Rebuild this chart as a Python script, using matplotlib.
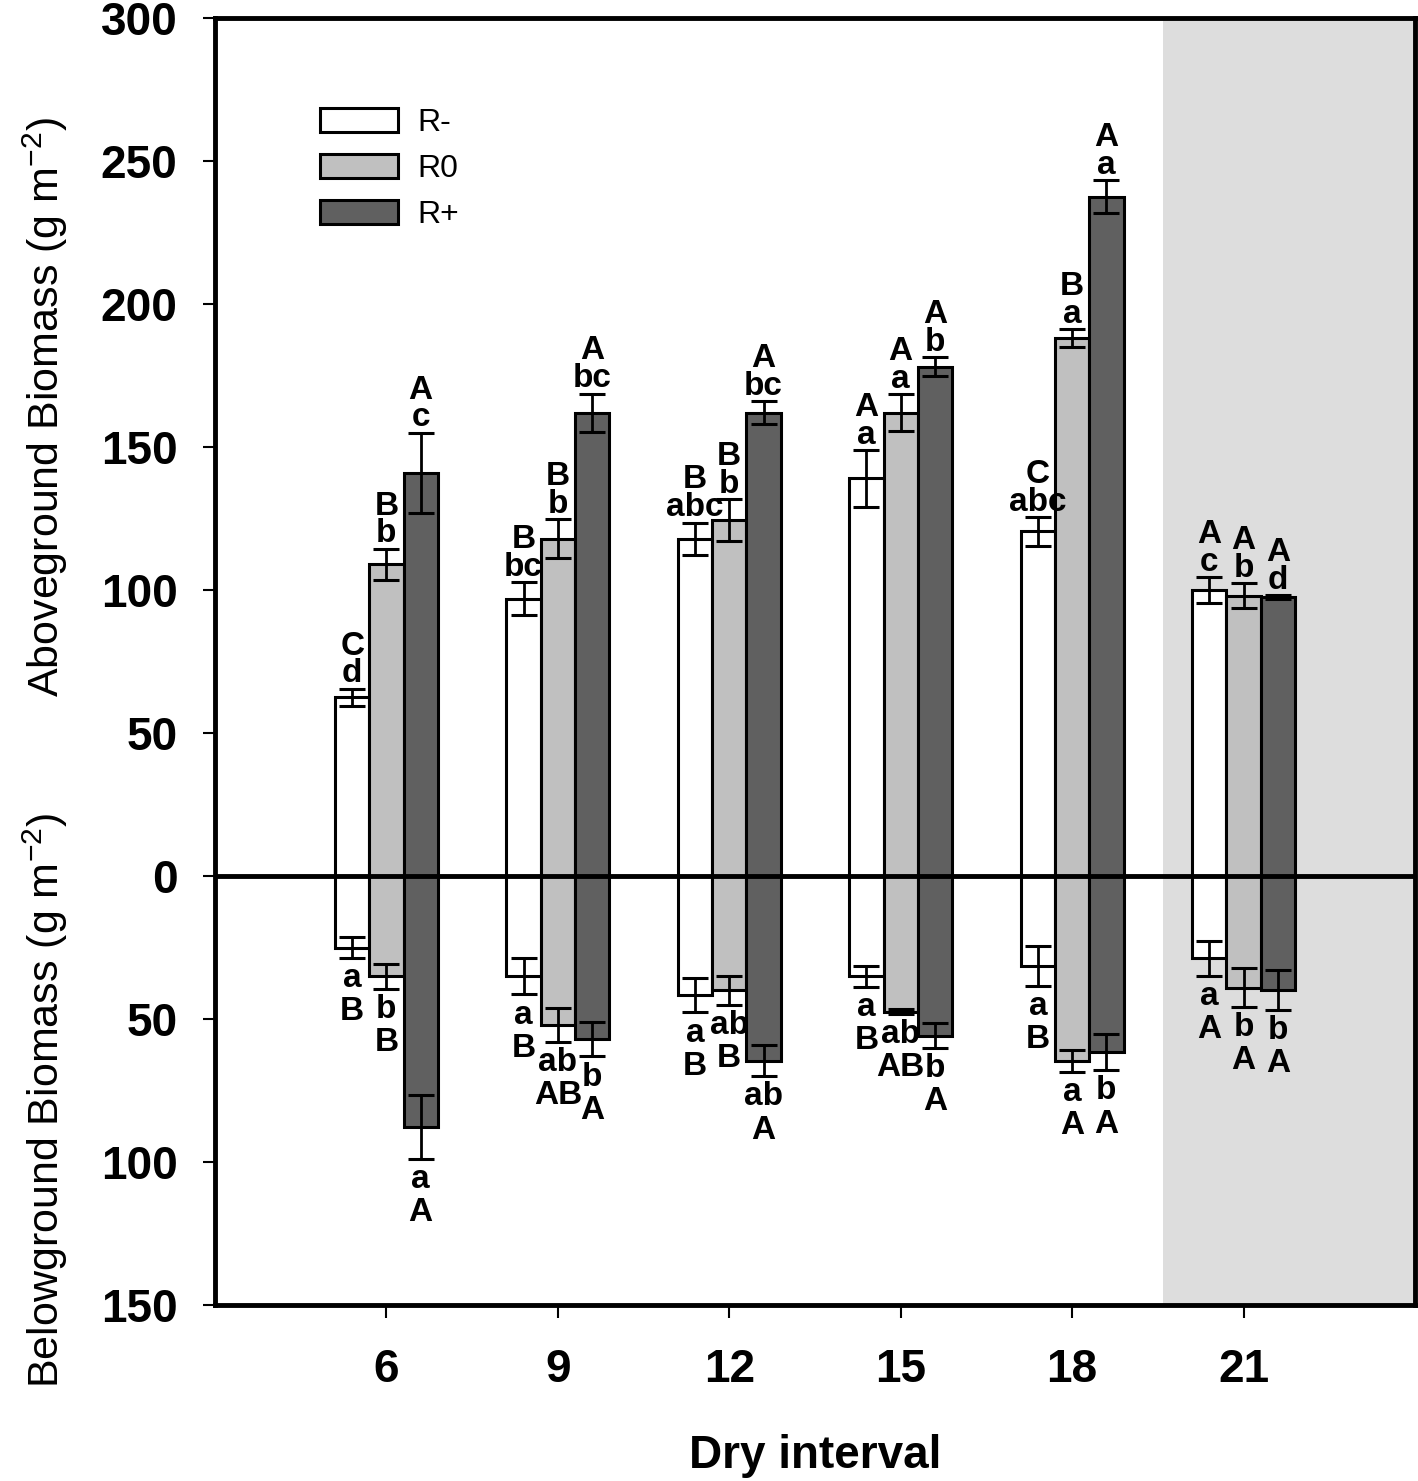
#Python libraries for math and graphics
import numpy as np
import matplotlib
matplotlib.use('Agg')
import matplotlib.pyplot as plt

plt.rcParams['font.family'] = ['Liberation Sans', 'DejaVu Sans']

#Input data
intervals = ['6', '9', '12', '15', '18', '21']
treatments = ['R-', 'R0', 'R+']

above_rminus = [62.5, 97, 118, 139, 120.5, 100]
above_rminus_se = [3, 5.7, 5.6, 10, 5.1, 4.4]
above_r0 = [109, 118, 124.5, 162, 188, 98]
above_r0_se = [5.5, 6.7, 7.2, 6.4, 3.2, 4.4]
above_rplus = [141, 162, 162, 178, 237.5, 97.5]
above_rplus_se = [14, 6.7, 4, 3.3, 5.8, 0.8]

below_rminus = [25, 35, 41.6, 35, 31.4, 28.8]
below_rminus_se = [3.6, 6.4, 6.1, 3.7, 7, 6.1]
below_r0 = [35, 52, 40, 47.4, 64.6, 39]
below_r0_se = [4.4, 6, 5, 0.8, 3.9, 6.7]
below_rplus = [87.6, 57, 64.6, 55.8, 61.6, 39.8]
below_rplus_se = [11.2, 6.1, 5.4, 4.3, 6.3, 7]

#significance letters (lowercase, uppercase)
above_low = [['d', 'bc', 'abc', 'a', 'abc', 'c'],
             ['b', 'b', 'b', 'a', 'a', 'b'],
             ['c', 'bc', 'bc', 'b', 'a', 'd']]
above_up = [['C', 'B', 'B', 'A', 'C', 'A'],
            ['B', 'B', 'B', 'A', 'B', 'A'],
            ['A', 'A', 'A', 'A', 'A', 'A']]
below_low = [['a', 'a', 'a', 'a', 'a', 'a'],
             ['b', 'ab', 'ab', 'ab', 'a', 'b'],
             ['a', 'b', 'ab', 'b', 'b', 'b']]
below_up = [['B', 'B', 'B', 'B', 'B', 'A'],
            ['B', 'AB', 'B', 'AB', 'A', 'A'],
            ['A', 'A', 'A', 'A', 'A', 'A']]

colors = ['white', '#c0c0c0', '#606060']
above = [above_rminus, above_r0, above_rplus]
above_se = [above_rminus_se, above_r0_se, above_rplus_se]
below = [below_rminus, below_r0, below_rplus]
below_se = [below_rminus_se, below_r0_se, below_rplus_se]

fig = plt.figure(figsize=(14.18, 14.81), dpi=100)
ax = fig.add_axes([215/1418, 176/1481, 1200/1418, 1287/1481])

x = np.arange(len(intervals))
w = 0.2
ax.axvspan(4.53, 6, color='#dddddd', zorder=0, lw=0)

for k in range(3):
  xs = x + (k - 1)*w
  up = np.array(above[k])
  dn = -np.array(below[k])
  ax.bar(xs, up, width=w, color=colors[k], edgecolor='black', linewidth=2.2,
         label=treatments[k], zorder=2)
  ax.bar(xs, dn, width=w, color=colors[k], edgecolor='black', linewidth=2.2,
         zorder=2)
  ax.errorbar(xs, up, yerr=above_se[k], fmt='none', ecolor='black',
              elinewidth=2, capsize=9.5, capthick=2.2, zorder=3)
  ax.errorbar(xs, dn, yerr=below_se[k], fmt='none', ecolor='black',
              elinewidth=2, capsize=9.5, capthick=2.2, zorder=3)
  for i in range(len(intervals)):
    top = up[i] + above_se[k][i]
    bot = dn[i] - below_se[k][i]
    ax.annotate(above_low[k][i], (xs[i], top), textcoords='offset points',
                xytext=(0, 4.5), ha='center', va='baseline',
                fontsize=24, fontweight='bold', zorder=5)
    ax.annotate(above_up[k][i], (xs[i], top), textcoords='offset points',
                xytext=(0, 24.5), ha='center', va='baseline',
                fontsize=24, fontweight='bold', zorder=5)
    ax.annotate(below_low[k][i], (xs[i], bot), textcoords='offset points',
                xytext=(0, -21), ha='center', va='baseline',
                fontsize=24, fontweight='bold', zorder=5)
    ax.annotate(below_up[k][i], (xs[i], bot), textcoords='offset points',
                xytext=(0, -45), ha='center', va='baseline',
                fontsize=24, fontweight='bold', zorder=5)

ax.axhline(0, color='black', lw=3.5, zorder=4)

ax.set_xlim(-1, 6)
ax.set_ylim(-150, 300)
yt = np.arange(-150, 301, 50)
ax.set_yticks(yt)
ax.set_yticklabels([str(abs(v)) for v in yt], fontweight='bold')
ax.set_xticks(x)
ax.set_xticklabels(intervals, fontweight='bold')
ax.tick_params(axis='y', direction='out', length=9, width=1.5, pad=18,
               labelsize=33)
ax.tick_params(axis='x', direction='out', length=9, width=1.5, pad=22,
               labelsize=33)
for s in ax.spines.values():
  s.set_linewidth(3.5)

ax.set_xlabel('Dry interval', fontsize=33, fontweight='bold', labelpad=30)

fig.text(45/1418, 1 - 407/1481, r'Aboveground Biomass (g m$^{\mathregular{-2}}$)',
         rotation=90, ha='center', va='center', fontsize=31)
fig.text(45/1418, 1 - 1100/1481, r'Belowground Biomass (g m$^{\mathregular{-2}}$)',
         rotation=90, ha='center', va='center', fontsize=31)

ax.legend(loc='upper left', bbox_to_anchor=(0.0875, 0.930), frameon=False,
          fontsize=23, handlelength=2.44, handleheight=0.78, labelspacing=0.5,
          handletextpad=0.6, borderaxespad=0, borderpad=0)

fig.savefig('out.png', dpi=100)
